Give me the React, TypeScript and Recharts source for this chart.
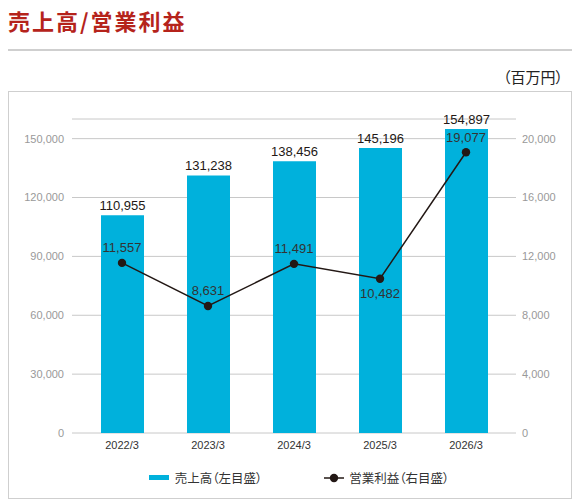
import {
    ComposedChart,
    Bar,
    Line,
    XAxis,
    YAxis,
    CartesianGrid,
    Legend,
    LabelList
} from "recharts";

const FONT = "'Liberation Sans', 'Noto Sans CJK JP', sans-serif";
const JP_FONT = "'Noto Sans CJK JP', 'Liberation Sans', sans-serif";

const years = ["2022/3", "2023/3", "2024/3", "2025/3", "2026/3"];
const sales = [110955, 131238, 138456, 145196, 154897];
const operatingProfit = [11557, 8631, 11491, 10482, 19077];

const salesTicks = [0, 30000, 60000, 90000, 120000, 150000];
const profitTicks = [0, 4000, 8000, 12000, 16000, 20000];

// label sits under the point for this year only
const profitLabelBelow = [false, false, false, true, false];

const data = years.map((year, i) => ({
    year,
    sales: sales[i],
    profit: operatingProfit[i]
}));

const BAR_COLOR = "#00b1dc";
const LINE_COLOR = "#231815";

const fmt = (v: number) => v.toLocaleString("en-US");

function ProfitLabel(props: any) {
    const { x, y, value, index } = props;
    const below = profitLabelBelow[index];
    return (
        <text
            x={x}
            y={below ? y + 15 : y - 15}
            textAnchor="middle"
            dominantBaseline="central"
            fill="#333"
            fontSize={13}
            fontFamily={FONT}
        >
            {fmt(value)}
        </text>
    );
}

function ChartLegend() {
    return (
        <div
            style={{
                display: "flex",
                justifyContent: "center",
                alignItems: "center",
                paddingTop: 4,
                paddingLeft: 18,
                height: 31,
                fontFamily: JP_FONT,
                fontSize: 12.5,
                fontFeatureSettings: "'palt'",
                color: "#333"
            }}
        >
            <div style={{ display: "flex", alignItems: "center", height: 16 }}>
                <span style={{ display: "inline-block", width: 20, height: 5, background: BAR_COLOR, marginRight: 6 }} />
                <span>売上高（左目盛）</span>
            </div>
            <div style={{ display: "flex", alignItems: "center", height: 16, marginLeft: 62 }}>
                <svg width={20} height={10} style={{ marginRight: 5 }}>
                    <line x1={0} y1={5} x2={20} y2={5} stroke={LINE_COLOR} strokeWidth={1.5} />
                    <circle cx={10} cy={5} r={4.2} fill={LINE_COLOR} />
                </svg>
                <span>営業利益（右目盛）</span>
            </div>
        </div>
    );
}

export default function App() {
    return (
        <div style={{ width: 564, fontFamily: JP_FONT }}>
            <div
                style={{
                    height: 40,
                    lineHeight: "22px",
                    paddingTop: 1,
                    fontSize: 22,
                    letterSpacing: 2,
                    fontWeight: 700,
                    color: "#b5231b"
                }}
            >
                売上高/営業利益
            </div>
            <div style={{ borderTop: "2px solid #cfcfcf" }} />
            <div
                style={{
                    height: 40,
                    lineHeight: "18px",
                    paddingTop: 17,
                    boxSizing: "border-box",
                    textAlign: "right",
                    paddingRight: 9,
                    fontSize: 15,
                    fontFeatureSettings: "'palt'",
                    color: "#222"
                }}
            >
                （百万円）
            </div>
            <div style={{ border: "1px solid #cfcfcf", width: 562, height: 406 }}>
                <ComposedChart
                    width={562}
                    height={406}
                    data={data}
                    margin={{ top: 27, right: 0, bottom: 5, left: 0 }}
                >
                    <CartesianGrid vertical={false} stroke="#c8c8c8" yAxisId="left" />
                    <XAxis
                        dataKey="year"
                        axisLine={false}
                        tickLine={false}
                        tickSize={0}
                        tickMargin={8}
                        height={25}
                        padding={{ left: 7, right: 7 }}
                        tick={{ fill: "#333", fontSize: 11, fontFamily: FONT }}
                    />
                    <YAxis
                        yAxisId="left"
                        orientation="left"
                        width={63}
                        domain={[0, 160000]}
                        ticks={salesTicks}
                        interval={0}
                        axisLine={false}
                        tickLine={false}
                        tickSize={0}
                        tickMargin={8}
                        tickFormatter={fmt}
                        tick={{ fill: "#999", fontSize: 11, fontFamily: FONT }}
                    />
                    <YAxis
                        yAxisId="right"
                        orientation="right"
                        width={55}
                        domain={[0, 160000 * 20000 / 150000]}
                        ticks={profitTicks}
                        interval={0}
                        axisLine={false}
                        tickLine={false}
                        tickSize={0}
                        tickMargin={6}
                        tickFormatter={fmt}
                        tick={{ fill: "#999", fontSize: 11, fontFamily: FONT }}
                    />
                    <Bar yAxisId="left" dataKey="sales" fill={BAR_COLOR} barSize={43} isAnimationActive={false}>
                        <LabelList
                            dataKey="sales"
                            position="top"
                            offset={5}
                            formatter={(v: any) => fmt(v)}
                            style={{ fill: "#231815", fontSize: 13, fontFamily: FONT }}
                        />
                    </Bar>
                    <Line
                        yAxisId="right"
                        dataKey="profit"
                        stroke={LINE_COLOR}
                        strokeWidth={1.5}
                        dot={{ r: 4.2, fill: LINE_COLOR, stroke: LINE_COLOR, strokeWidth: 0 }}
                        isAnimationActive={false}
                    >
                        <LabelList dataKey="profit" content={<ProfitLabel />} />
                    </Line>
                    <Legend verticalAlign="bottom" height={35} content={<ChartLegend />} />
                </ComposedChart>
            </div>
        </div>
    );
}
